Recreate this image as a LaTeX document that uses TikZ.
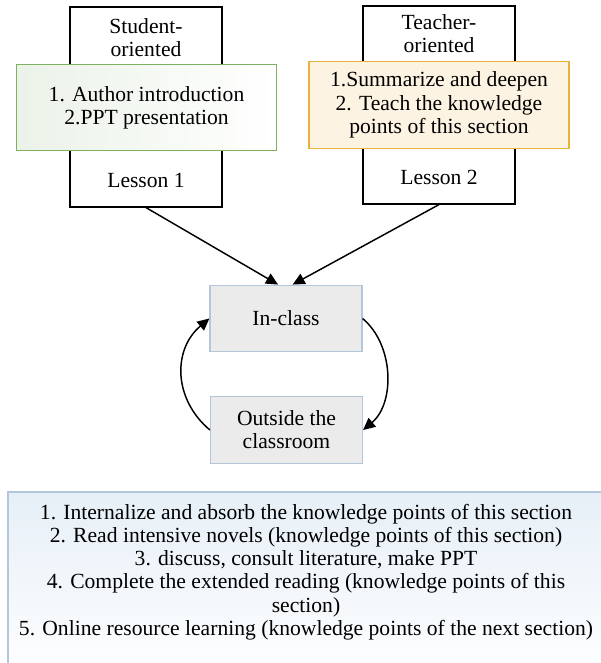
\documentclass[tikz,border=0pt]{standalone}
\usepackage{fontspec}
\setmainfont{Liberation Serif}
\usetikzlibrary{arrows.meta}
\definecolor{greenline}{HTML}{7DB060}
\definecolor{greenfill}{HTML}{EBF2E8}
\definecolor{yellowline}{HTML}{E6B43C}
\definecolor{yellowfill}{HTML}{FDF3E2}
\definecolor{grayfill}{HTML}{EBEBEB}
\definecolor{blueline}{HTML}{B4C6DA}
\definecolor{bluefill}{HTML}{E6EFF7}
\begin{document}
\begin{tikzpicture}[x=0.75pt, y=0.75pt,
    every node/.style={font=\fontsize{16.2}{17.4}\selectfont, align=center, inner sep=0pt},
    outerbox/.style={draw=black, line width=0.9pt, minimum width=114pt},
    taskbox/.style={line width=0.9pt, minimum width=195pt, minimum height=65pt},
    placebox/.style={draw=blueline, fill=grayfill, line width=0.9pt, minimum width=114pt, minimum height=50pt},
    flow/.style={line width=1.1pt, -{Triangle[length=9pt, width=8.5pt]}}]
    \useasboundingbox (0,0) rectangle (600,663);

    % 学生主导 (第一课)
    \node[outerbox, minimum height=150pt] (stud) at (146,556) {};
    \node[taskbox, draw=greenline, left color=greenfill, right color=white] (studtask) at (146.5,555.5)
      {1. Author introduction\\2.PPT presentation};
    \node (studlabel) at (146,625.5) {Student-\\oriented};
    \node (lesson1) at (146,483) {Lesson 1};

    % 教师主导 (第二课)
    \node[outerbox, minimum height=148.5pt] (teach) at (439,558) {};
    \node[taskbox, draw=yellowline, fill=yellowfill] (teachtask) at (439,558)
      {1.Summarize and deepen\\2. Teach the knowledge\\points of this section};
    \node (teachlabel) at (439,629.5) {Teacher-\\oriented};
    \node (lesson2) at (439,486) {Lesson 2};

    % 课内与课外
    \node[placebox] (inclass) at (286,344.5) {In-class};
    \node[placebox] (outside) at (286.5,233) {Outside the\\classroom};

    % 箭头
    \draw[flow] (stud.south) -- ([xshift=-6pt]inclass.north);
    \draw[flow] (teach.south) -- ([xshift=5pt]inclass.north);
    \draw[flow] (inclass.east) to[out=-40, in=40, looseness=0.95] (outside.east);
    \draw[flow] (outside.west) to[out=140, in=-140, looseness=1.1] (inclass.west);

    % 课后任务
    \node[draw=blueline, line width=0.9pt, top color=bluefill, bottom color=white,
      minimum width=453pt, minimum height=141pt] (notes) at (310,77) {};
    \node (notetext) at (306,91)
      {1. Internalize and absorb the knowledge points of this section\\
       2. Read intensive novels (knowledge points of this section)\\
       3. discuss, consult literature, make PPT\\
       4. Complete the extended reading (knowledge points of this\\
       section)\\
       5. Online resource learning (knowledge points of the next section)};
\end{tikzpicture}
\end{document}
